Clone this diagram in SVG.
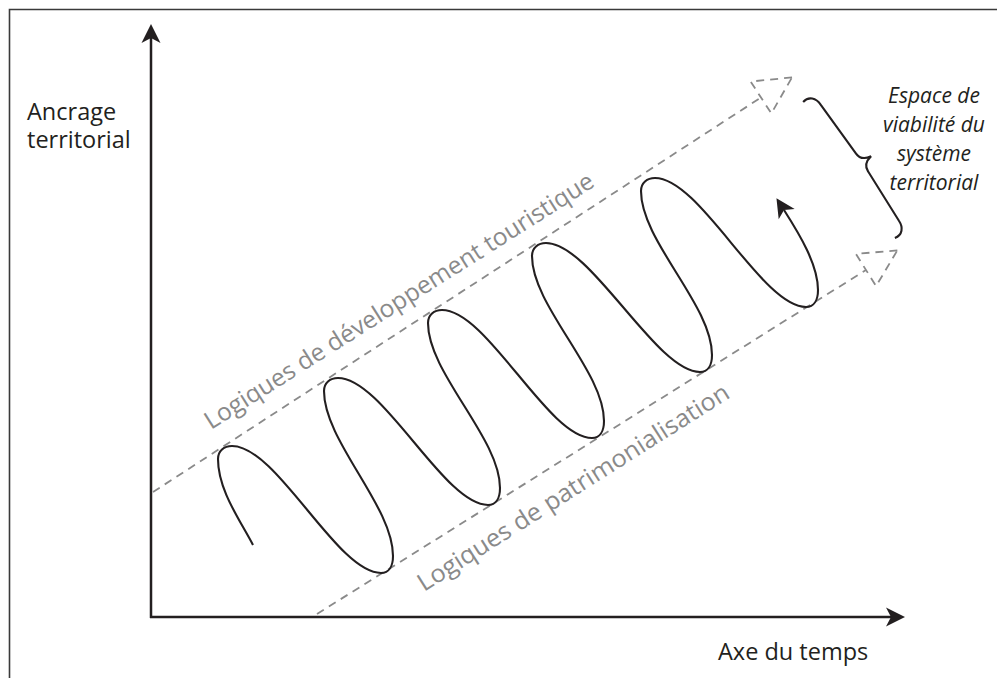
<svg xmlns="http://www.w3.org/2000/svg" width="997" height="678" viewBox="0 0 997 678">
<style>
.frame{fill:none;stroke:#3a3a3a;stroke-width:1.6}
.axis{fill:none;stroke:#231f20;stroke-width:2.5}
.curve{fill:none;stroke:#231f20;stroke-width:2.1}
.dash{fill:none;stroke:#8a8a8a;stroke-width:1.8;stroke-dasharray:8 6}
.lbl{font-family:"Open Sans","Noto Sans",sans-serif;font-size:23.5px;fill:#231f20}
.glbl{font-family:"Open Sans","Noto Sans",sans-serif;font-size:24.5px;fill:#8a8a8a}
.ital{font-family:"Open Sans","Noto Sans",sans-serif;font-size:21px;font-style:italic;fill:#231f20;text-anchor:middle}
</style>
<defs>
<marker id="ah" viewBox="-20 -11 22 22" markerWidth="22" markerHeight="22" refX="-14" refY="0" orient="auto" markerUnits="userSpaceOnUse">
<path d="M0,0 L-19,-9.5 L-14,0 L-19,9.5 Z" fill="#231f20"/>
</marker>
<marker id="dah" viewBox="-40 -22 44 44" markerWidth="44" markerHeight="44" refX="-37" refY="0" orient="auto" markerUnits="userSpaceOnUse" overflow="visible">
<path d="M0,0 L-37,-19 L-37,19 Z" fill="none" stroke="#8a8a8a" stroke-width="1.8" stroke-dasharray="8 6"/>
</marker>
</defs>
<g id="frame">
<path class="frame" d="M9.5,678 L9.5,9.5 L997,9.5"/>
</g>
<g id="connectors">
<path id="y-axis" class="axis" d="M151,618 L151,38" marker-end="url(#ah)"/>
<path id="x-axis" class="axis" d="M150,617 L891,617" marker-end="url(#ah)"/>
<path id="upper-limit" class="dash" d="M153,492 L761,97.5" marker-end="url(#dah)"/>
<path id="lower-limit" class="dash" d="M317,614 L866,270" marker-end="url(#dah)"/>
</g>
<g id="spiral">
<path class="curve" marker-end="url(#ah)" d="M253,545 C240,520 218,490 218,459 C218,451 224,446 232,446 C277,446 337,573 381,573 C389,573 393,566 393,556 C393,506 324,441 324,391 C324,383 330,378 338,378 C383,378 444,505 488,505 C496,505 500,498 500,488 C500,438 428,373 428,323 C428,315 434,310 442,310 C487,310 548,438 592,438 C600,438 604,431 604,421 C604,371 532,306 532,256 C532,248 538,243 546,243 C591,243 656,372 700,372 C708,372 712,365 712,355 C712,305 641,241 641,191 C641,183 647,178 655,178 C700,178 762,307 806,307 C814,307 818,300 818,290 C818,265 800,235 784,210"/>
</g>
<g id="brace">
<path class="curve" transform="translate(849,170) rotate(-34)" d="M0,-82 C8,-84 13,-78 13,-70 L15,-10 C15,-3 20,0 26,1 C20,2 15,5 15,12 L13,70 C13,78 8,84 0,82"/>
</g>
<g id="label-y">
<text class="lbl" x="27" y="120">Ancrage</text>
<text class="lbl" x="27" y="148">territorial</text>
</g>
<g id="label-x">
<text class="lbl" x="718" y="660">Axe du temps</text>
</g>
<g id="label-tourisme">
<text class="glbl" transform="translate(211,430) rotate(-32.4)" textLength="456" lengthAdjust="spacingAndGlyphs">Logiques de développement touristique</text>
</g>
<g id="label-patrimoine">
<text class="glbl" transform="translate(424,592) rotate(-32.4)" textLength="364" lengthAdjust="spacingAndGlyphs">Logiques de patrimonialisation</text>
</g>
<g id="label-viabilite">
<text class="ital" x="934" y="103">Espace de</text>
<text class="ital" x="934" y="132">viabilité du</text>
<text class="ital" x="934" y="161">système</text>
<text class="ital" x="934" y="190">territorial</text>
</g>
</svg>
